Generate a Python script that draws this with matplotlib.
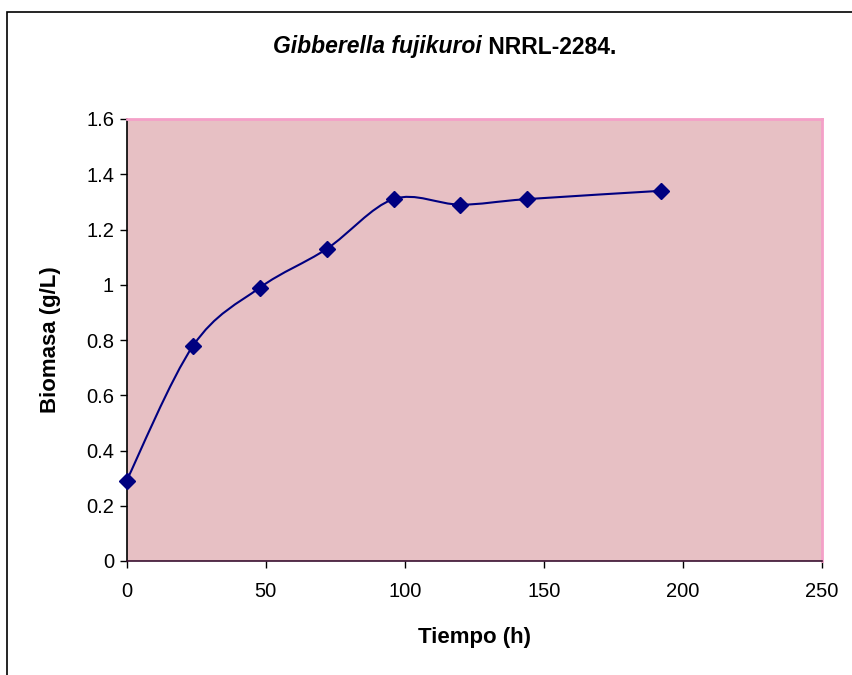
import numpy as np
import matplotlib
matplotlib.use("Agg")
import matplotlib.pyplot as plt
from matplotlib.path import Path
from matplotlib.patches import PathPatch, Rectangle

plt.rcParams['font.family'] = ['Liberation Sans', 'DejaVu Sans']

# data
tiempo = [0, 24, 48, 72, 96, 120, 144, 192]
biomasa = [0.29, 0.78, 0.99, 1.13, 1.31, 1.29, 1.31, 1.34]
x_ticks = [0, 50, 100, 150, 200, 250]
y_ticks = [0, 0.2, 0.4, 0.6, 0.8, 1.0, 1.2, 1.4, 1.6]
y_tick_labels = ["0", "0.2", "0.4", "0.6", "0.8", "1", "1.2", "1.4", "1.6"]
title_species = "Gibberella fujikuroi"
title_strain = " NRRL-2284."

W, H = 852, 675
fig = plt.figure(figsize=(W / 100, H / 100), dpi=100)

# chart frame (cut at right and bottom as in the original)
fig.patches.append(Rectangle((7 / W, -0.1), 1.2, (H - 12) / H + 0.1,
                             transform=fig.transFigure, fill=False,
                             edgecolor="black", linewidth=1.2))

ax = fig.add_axes([126.5 / W, 1 - 561 / H, (822 - 126.5) / W, (561 - 119) / H])
ax.set_facecolor("#E7C0C4")
ax.set_xlim(0, 250)
ax.set_ylim(0, 1.6)


def smooth_path(xs, ys):
    # Excel-style smoothed line: cubic Bezier through the points
    pts = np.column_stack([xs, ys]).astype(float)
    n = len(pts)
    verts = [pts[0]]
    codes = [Path.MOVETO]
    for i in range(n - 1):
        p0 = pts[i - 1] if i > 0 else pts[i]
        p1 = pts[i]
        p2 = pts[i + 1]
        p3 = pts[i + 2] if i + 2 < n else pts[i + 1]
        c1 = p1 + (p2 - p0) / 6.0
        c2 = p2 - (p3 - p1) / 6.0
        verts += [c1, c2, p2]
        codes += [Path.CURVE4] * 3
    return Path(verts, codes)


ax.add_patch(PathPatch(smooth_path(tiempo, biomasa), fill=False,
                       edgecolor="#000080", linewidth=1.5, zorder=3))
ax.plot(tiempo, biomasa, linestyle="none", marker="D", markersize=8,
        color="#000080", zorder=4, clip_on=False)

ax.set_xticks(x_ticks)
ax.set_yticks(y_ticks)
ax.set_yticklabels(y_tick_labels)
ax.tick_params(direction="out", length=5, width=1, labelsize=14.5, colors="black", pad=4)
ax.tick_params(axis="x", pad=10)

for side in ("top", "right"):
    ax.spines[side].set_color("#F4A0C8")
    ax.spines[side].set_linewidth(2)
ax.spines["left"].set_color("black")
ax.spines["bottom"].set_color("#3a1030")
ax.spines["left"].set_linewidth(1.2)
ax.spines["bottom"].set_linewidth(1.2)

ax.set_xlabel("Tiempo (h)", fontsize=16, fontweight="bold", labelpad=19)
ax.set_ylabel("Biomasa (g/L)", fontsize=16, fontweight="bold", labelpad=18)

# title: italic species name followed by the strain, centred as one line
renderer = fig.canvas.get_renderer()
t1 = fig.text(0, 1 - 47 / H, title_species, ha="left", va="center",
              fontsize=16.5, fontweight="bold", fontstyle="italic")
t2 = fig.text(0, 1 - 47 / H, title_strain, ha="left", va="center",
              fontsize=16.5, fontweight="bold")
w1 = t1.get_window_extent(renderer).width
w2 = t2.get_window_extent(renderer).width
x0 = 445 - (w1 + w2) / 2
t1.set_x(x0 / W)
t2.set_x((x0 + w1) / W)

fig.savefig("out.png", dpi=100)
